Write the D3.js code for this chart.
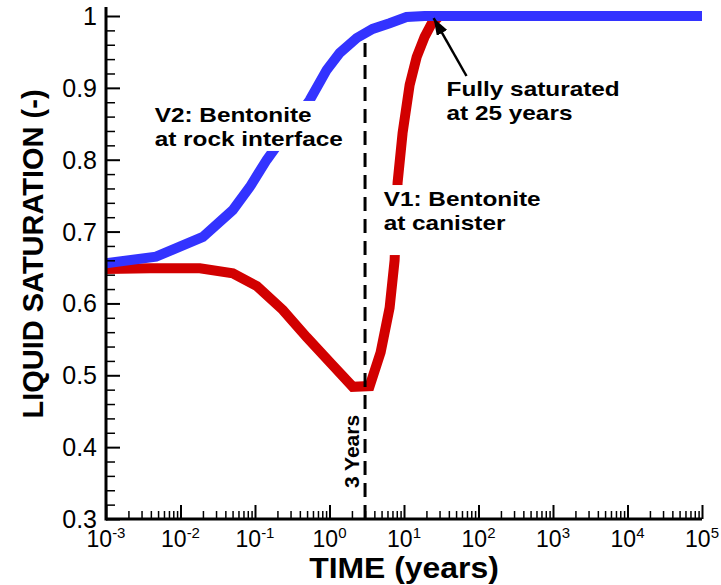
<!DOCTYPE html>
<html>
<head>
<meta charset="utf-8">
<script src="https://cdn.jsdelivr.net/npm/d3@7"></script>
<style>
  html, body { margin: 0; padding: 0; background: #fff; }
  svg { display: block; font-family: "Liberation Sans", Arial, Helvetica, sans-serif; }
</style>
</head>
<body>
<svg id="chart" width="721" height="585"></svg>
<script>
// Liquid saturation of the bentonite buffer over time (log time axis)

// V1: bentonite at canister
const timeV1 = [0.001, 0.0039, 0.0182, 0.0504, 0.106, 0.236, 0.494, 1.10, 2.05, 3.46,
                4.86, 6.41, 7.48, 8.20, 9.57, 11.9, 14.8, 18.9, 23.4, 30, 100000];
const satV1  = [0.648, 0.649, 0.649, 0.642, 0.624, 0.591, 0.553, 0.514, 0.484, 0.485,
                0.532, 0.594, 0.660, 0.768, 0.837, 0.904, 0.943, 0.971, 0.989, 1.0, 1.0];

// V2: bentonite at rock interface
const timeV2 = [0.001, 0.0047, 0.01995, 0.0504, 0.0851, 0.144, 0.543, 0.917, 1.37, 2.32,
                3.79, 6.41, 10.8, 18.9, 100000];
const satV2  = [0.656, 0.665, 0.6925, 0.730, 0.762, 0.800, 0.883, 0.925, 0.9485, 0.9694,
                0.982, 0.990, 0.9986, 1.0, 1.0];

// axis ticks
const xTickExponents = [-3, -2, -1, 0, 1, 2, 3, 4, 5];
const yTickValues = [0.3, 0.4, 0.5, 0.6, 0.7, 0.8, 0.9, 1];
const yTickLabels = ["0.3", "0.4", "0.5", "0.6", "0.7", "0.8", "0.9", "1"];

// reference marker: onset of resaturation
const markerTime = 3;
const markerSatTop = 0.97;
const fullSatTime = 25;

const svg = d3.select("#chart");

const x = d3.scaleLog().domain([1e-3, 1e5]).range([106, 702]);
const y = d3.scaleLinear().domain([0.3, 1]).range([519, 16]);

// ---- curves ----
const line = d3.line().x(d => x(d[0])).y(d => y(d[1]));
const v1 = timeV1.map((t, i) => [t, satV1[i]]);
const v2 = timeV2.map((t, i) => [t, satV2[i]]);

svg.append("path").datum(v1)
  .attr("d", line).attr("fill", "none")
  .attr("stroke", "#d20000").attr("stroke-width", 10);

svg.append("path").datum(v2)
  .attr("d", line).attr("fill", "none")
  .attr("stroke", "#3333ff").attr("stroke-width", 10);

// dashed marker line at 3 years
svg.append("line")
  .attr("x1", x(markerTime)).attr("x2", x(markerTime))
  .attr("y1", y(0.3)).attr("y2", y(markerSatTop))
  .attr("stroke", "#000").attr("stroke-width", 3)
  .attr("stroke-dasharray", "14,8");

svg.append("text")
  .attr("transform", `translate(${x(markerTime) - 6},${y(0.394)}) rotate(-90)`)
  .attr("text-anchor", "middle")
  .attr("font-size", 21).attr("font-weight", "bold")
  .text("3 Years");

// ---- axes ----
const minorX = [];
for (let e = -3; e < 5; e++) for (let m = 2; m <= 9; m++) minorX.push(m * Math.pow(10, e));
const majorX = xTickExponents.map(e => Math.pow(10, e));
const minorY = d3.range(30, 101, 2).filter(v => v % 10 !== 0).map(v => v / 100);

const axes = svg.append("g");

const xMinorAxis = d3.axisBottom(x).tickValues(minorX).tickSize(-8).tickFormat("");
const xMajorAxis = d3.axisBottom(x).tickValues(majorX).tickSize(-14).tickFormat("");
const yMinorAxis = d3.axisLeft(y).tickValues(minorY).tickSize(-9).tickFormat("");
const yMajorAxis = d3.axisLeft(y).tickValues(yTickValues).tickSize(-14).tickFormat("");

function styleAxis(g, w) {
  g.select(".domain").remove();
  g.selectAll(".tick line").attr("stroke", "#000").attr("stroke-width", w);
}
axes.append("g").attr("transform", `translate(0,${y(0.3)})`).call(xMinorAxis).call(g => styleAxis(g, 1.5));
axes.append("g").attr("transform", `translate(0,${y(0.3)})`).call(xMajorAxis).call(g => styleAxis(g, 2));
axes.append("g").attr("transform", `translate(${x(1e-3)},0)`).call(yMinorAxis).call(g => styleAxis(g, 1.5));
axes.append("g").attr("transform", `translate(${x(1e-3)},0)`).call(yMajorAxis).call(g => styleAxis(g, 2));

// axis lines
axes.append("line")
  .attr("x1", x(1e-3)).attr("x2", x(1e5))
  .attr("y1", y(0.3)).attr("y2", y(0.3))
  .attr("stroke", "#000").attr("stroke-width", 3);
axes.append("line")
  .attr("x1", x(1e-3)).attr("x2", x(1e-3))
  .attr("y1", y(0.3) + 1.5).attr("y2", y(1) - 9)
  .attr("stroke", "#000").attr("stroke-width", 3);

// x tick labels as powers of ten
const xLab = axes.selectAll(".xlab").data(xTickExponents).join("text")
  .attr("class", "xlab")
  .attr("x", e => x(Math.pow(10, e)))
  .attr("y", 547)
  .attr("text-anchor", "middle")
  .attr("font-size", 23);
xLab.append("tspan").text("10");
xLab.append("tspan").attr("dy", -9).attr("font-size", 15).text(e => String(e));

// y tick labels
axes.selectAll(".ylab").data(yTickValues).join("text")
  .attr("class", "ylab")
  .attr("x", 97)
  .attr("y", d => y(d))
  .attr("dy", "0.36em")
  .attr("text-anchor", "end")
  .attr("font-size", 25)
  .text((d, i) => yTickLabels[i]);

// axis titles
svg.append("text")
  .attr("transform", "translate(404,578) scale(1.1,1)")
  .attr("text-anchor", "middle")
  .attr("font-size", 29).attr("font-weight", "bold")
  .text("TIME (years)");

svg.append("text")
  .attr("transform", `translate(43,254) rotate(-90)`)
  .attr("text-anchor", "middle")
  .attr("font-size", 29).attr("font-weight", "bold")
  .text("LIQUID SATURATION (-)");

// ---- annotations (wide bold type) with white backing boxes ----
function label(lines, t, s, padTop, padBottom) {
  const g = svg.append("g")
    .attr("transform", `translate(${x(t)},${y(s)}) scale(1.16,1)`);
  const rect = g.append("rect").attr("fill", "#fff");
  const txt = g.append("text")
    .attr("x", 0).attr("y", 0)
    .attr("font-size", 21).attr("font-weight", "bold");
  lines.forEach((l, i) => {
    txt.append("tspan").attr("x", 0).attr("dy", i === 0 ? 0 : 24).text(l);
  });
  const b = txt.node().getBBox();
  rect.attr("x", b.x - 3).attr("y", b.y - padTop)
    .attr("width", b.width + 6).attr("height", b.height + padTop + padBottom);
  return g;
}

label(["V2: Bentonite", "at rock interface"], 0.0045, 0.852, 2, 0);
label(["V1: Bentonite", "at canister"], 5.33, 0.735, 2, 20);
label(["Fully saturated", "at 25 years"], 37.2, 0.888, 1, 0);

// arrow to the point of full saturation
svg.append("defs").append("marker")
  .attr("id", "head")
  .attr("markerUnits", "userSpaceOnUse")
  .attr("viewBox", "0 0 17 12")
  .attr("refX", 17).attr("refY", 6)
  .attr("markerWidth", 17).attr("markerHeight", 12)
  .attr("orient", "auto")
  .append("path").attr("d", "M0,0 L17,6 L0,12 Z").attr("fill", "#000");

svg.append("line")
  .attr("x1", x(69)).attr("y1", y(0.9165))
  .attr("x2", x(fullSatTime)).attr("y2", y(0.997))
  .attr("stroke", "#000").attr("stroke-width", 2.5)
  .attr("marker-end", "url(#head)");
</script>
</body>
</html>
